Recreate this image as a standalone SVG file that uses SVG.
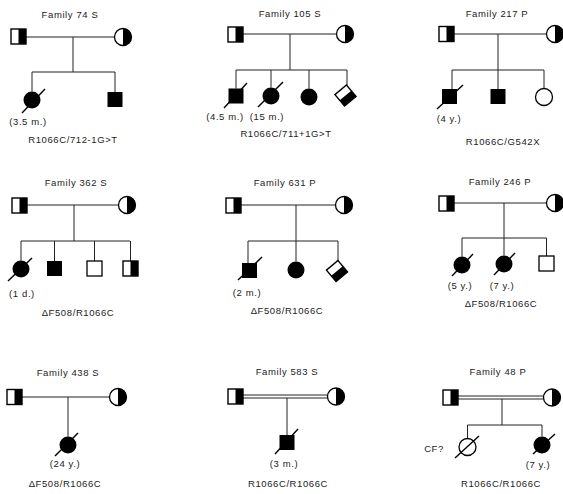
<svg xmlns="http://www.w3.org/2000/svg" width="563" height="494" viewBox="0 0 563 494">
<style>
.ln{stroke:#222;stroke-width:1;fill:none}
.dl{stroke:#222;stroke-width:1;fill:none}
.sl{stroke:#000;stroke-width:1.4}
.t{font-family:"Liberation Sans",Arial,sans-serif;font-size:9.5px;letter-spacing:0.6px;fill:#222;text-anchor:middle}
</style>
<defs>
<g id="hsq"><rect x="-7.5" y="-7.5" width="15" height="15" fill="#fff" stroke="#000" stroke-width="1.4"/><rect x="0" y="-7.5" width="7.5" height="15" fill="#000"/></g>
<g id="hci"><circle r="8.5" fill="#fff" stroke="#000" stroke-width="1.3"/><path d="M0,-8.5 A8.5,8.5 0 0 1 0,8.5 Z" fill="#000"/></g>
<rect id="fsq" x="-7.5" y="-7.5" width="15" height="15" fill="#000"/>
<rect id="osq" x="-7.5" y="-7.5" width="15" height="15" fill="#fff" stroke="#000" stroke-width="1.3"/>
<circle id="fci" r="8.5" fill="#000"/>
<circle id="oci" r="8.5" fill="#fff" stroke="#000" stroke-width="1.3"/>
</defs>
<rect width="563" height="494" fill="#fff"/>

<g id="connectors">
<!-- Family 74 S -->
<path class="ln" d="M26,37H114.5 M73,37V72 M32,72H115 M32,72V91.5 M115,72V92"/>
<!-- Family 105 S -->
<path class="ln" d="M243,34H336.5 M290,34V70 M236,70H347 M236,70V88.5 M271,70V87.5 M309,70V88.5 M347,70V85"/>
<!-- Family 217 P -->
<path class="ln" d="M454,34H546.5 M498,34V70 M452,70H544 M452,70V89 M498,70V89 M544,70V88.5"/>
<!-- Family 362 S -->
<path class="ln" d="M27,205H118.5 M74,205V241 M21,241H130 M21,241V260.5 M54.5,241V261 M94.5,241V261 M130.5,241V261"/>
<!-- Family 631 P -->
<path class="ln" d="M241,205H335.5 M296,205V261.5 M248,241H338 M248,241V263 M338,241V261"/>
<!-- Family 246 P -->
<path class="ln" d="M454,203H546.5 M504,203V255.5 M462,238H546.5 M462,238V256.5 M546.5,238V256"/>
<!-- Family 438 S -->
<path class="ln" d="M22,397H109.5 M68,397V436.5"/>
<!-- Family 583 S -->
<path class="dl" d="M243,395H327.5 M243,398H327.5 M287,398V435"/>
<!-- Family 48 P -->
<path class="dl" d="M458,396H543.5 M458,399H543.5 M502,399V425 M467.5,425H542 M467.5,425V438.5 M542,425V436.5"/>
</g>

<g id="family74">
<text class="t" x="70" y="18">Family 74 S</text>
<g id="f74-father"><use href="#hsq" x="18.5" y="36.5"/></g>
<g id="f74-mother"><use href="#hci" x="123" y="37"/></g>
<g id="f74-child1"><use href="#fci" x="32" y="100"/><line class="sl" x1="22" y1="113" x2="45" y2="89"/></g>
<g id="f74-child2"><use href="#fsq" x="115" y="99.5"/></g>
<text class="t" x="28" y="125">(3.5 m.)</text>
<text class="t" x="73" y="143">R1066C/712-1G&gt;T</text>
</g>

<g id="family105">
<text class="t" x="290" y="17">Family 105 S</text>
<g id="f105-father"><use href="#hsq" x="235.5" y="34.5"/></g>
<g id="f105-mother"><use href="#hci" x="345" y="34"/></g>
<g id="f105-child1"><use href="#fsq" x="236" y="96"/><line class="sl" x1="224" y1="108" x2="247" y2="83"/></g>
<g id="f105-child2"><use href="#fci" x="271" y="96"/><line class="sl" x1="258" y1="107" x2="283" y2="82"/></g>
<g id="f105-child3"><use href="#fci" x="309" y="97"/></g>
<g id="f105-child4"><use href="#hsq" transform="translate(345.5,95.5) rotate(50)"/></g>
<text class="t" x="225" y="120">(4.5 m.)</text>
<text class="t" x="267" y="120">(15 m.)</text>
<text class="t" x="286" y="137">R1066C/711+1G&gt;T</text>
</g>

<g id="family217">
<text class="t" x="497" y="17">Family 217 P</text>
<g id="f217-father"><use href="#hsq" x="446.5" y="34"/></g>
<g id="f217-mother"><use href="#hci" x="555" y="34"/></g>
<g id="f217-child1"><use href="#fsq" x="449.5" y="96.5"/><line class="sl" x1="437" y1="109" x2="463" y2="85"/></g>
<g id="f217-child2"><use href="#fsq" x="498" y="96.5"/></g>
<g id="f217-child3"><use href="#oci" x="544" y="97"/></g>
<text class="t" x="449" y="122">(4 y.)</text>
<text class="t" x="503" y="145">R1066C/G542X</text>
</g>

<g id="family362">
<text class="t" x="76" y="186">Family 362 S</text>
<g id="f362-father"><use href="#hsq" x="19.5" y="205.5"/></g>
<g id="f362-mother"><use href="#hci" x="127" y="205"/></g>
<g id="f362-child1"><use href="#fci" x="21" y="269"/><line class="sl" x1="8" y1="281" x2="32" y2="258"/></g>
<g id="f362-child2"><use href="#fsq" x="54.5" y="268.5"/></g>
<g id="f362-child3"><use href="#osq" x="94.5" y="268.5"/></g>
<g id="f362-child4"><use href="#hsq" x="130.5" y="268.5"/></g>
<text class="t" x="22" y="297">(1 d.)</text>
<text class="t" x="78" y="316">ΔF508/R1066C</text>
</g>

<g id="family631">
<text class="t" x="285" y="186">Family 631 P</text>
<g id="f631-father"><use href="#hsq" x="233.5" y="205.5"/></g>
<g id="f631-mother"><use href="#hci" x="344" y="205"/></g>
<g id="f631-child1"><use href="#fsq" x="249.5" y="270.5"/><line class="sl" x1="238" y1="280" x2="262" y2="257"/></g>
<g id="f631-child2"><use href="#fci" x="296" y="270"/></g>
<g id="f631-child3"><use href="#hsq" transform="translate(337,271) rotate(50)"/></g>
<text class="t" x="247" y="296">(2 m.)</text>
<text class="t" x="287" y="314">ΔF508/R1066C</text>
</g>

<g id="family246">
<text class="t" x="500" y="185">Family 246 P</text>
<g id="f246-father"><use href="#hsq" x="446.5" y="203.5"/></g>
<g id="f246-mother"><use href="#hci" x="555" y="203"/></g>
<g id="f246-child1"><use href="#fci" x="462" y="265"/><line class="sl" x1="452" y1="276" x2="473" y2="254"/></g>
<g id="f246-child2"><use href="#fci" x="504" y="264"/><line class="sl" x1="494" y1="275" x2="515" y2="253"/></g>
<g id="f246-child3"><use href="#osq" x="546.5" y="263.5"/></g>
<text class="t" x="460" y="289">(5 y.)</text>
<text class="t" x="502" y="289">(7 y.)</text>
<text class="t" x="501" y="307">ΔF508/R1066C</text>
</g>

<g id="family438">
<text class="t" x="68" y="376">Family 438 S</text>
<g id="f438-father"><use href="#hsq" x="14.5" y="397"/></g>
<g id="f438-mother"><use href="#hci" x="118" y="397"/></g>
<g id="f438-child1"><use href="#fci" x="68" y="445"/><line class="sl" x1="55" y1="456" x2="78" y2="433"/></g>
<text class="t" x="65" y="467">(24 y.)</text>
<text class="t" x="65" y="487">ΔF508/R1066C</text>
</g>

<g id="family583">
<text class="t" x="287" y="375">Family 583 S</text>
<g id="f583-father"><use href="#hsq" x="235.5" y="396.5"/></g>
<g id="f583-mother"><use href="#hci" x="336" y="396.5"/></g>
<g id="f583-child1"><use href="#fsq" x="287" y="442.5"/><line class="sl" x1="275" y1="454" x2="298" y2="429"/></g>
<text class="t" x="284" y="467">(3 m.)</text>
<text class="t" x="288" y="487">R1066C/R1066C</text>
</g>

<g id="family48">
<text class="t" x="498" y="375">Family 48 P</text>
<g id="f48-father"><use href="#hsq" x="450.5" y="397.5"/></g>
<g id="f48-mother"><use href="#hci" x="552" y="397.5"/></g>
<g id="f48-child1"><use href="#oci" x="467.5" y="447"/><line class="sl" x1="455" y1="458" x2="479" y2="436"/></g>
<g id="f48-child2"><use href="#fci" x="542" y="445"/><line class="sl" x1="533" y1="454" x2="555" y2="434"/></g>
<text class="t" x="434" y="452">CF?</text>
<text class="t" x="538" y="468">(7 y.)</text>
<text class="t" x="501" y="487">R1066C/R1066C</text>
</g>
</svg>
